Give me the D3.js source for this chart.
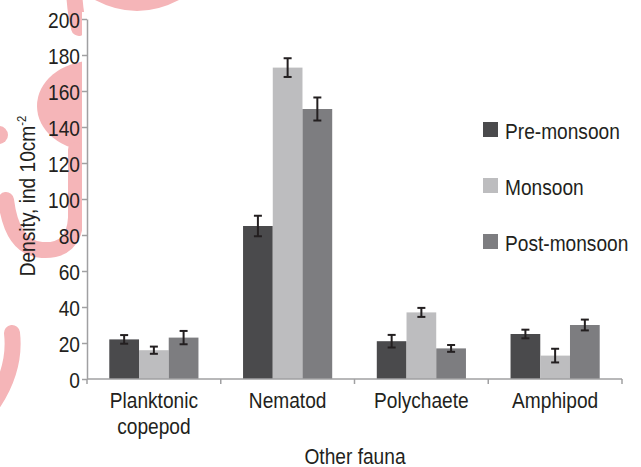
<!DOCTYPE html>
<html>
<head>
<meta charset="utf-8">
<script src="https://cdn.jsdelivr.net/npm/d3@7"></script>
<style>
  html, body { margin: 0; padding: 0; background: #fff; }
  svg { display: block; }
  text { font-family: "Liberation Sans", Arial, sans-serif; fill: #231f20; }
</style>
</head>
<body>
<svg id="chart" width="641" height="467"></svg>
<script>
// ---- data ----
const categories = ["Planktonic copepod", "Nematod", "Polychaete", "Amphipod"];
const categoryLines = [["Planktonic", "copepod"], ["Nematod"], ["Polychaete"], ["Amphipod"]];
const seriesNames = ["Pre-monsoon", "Monsoon", "Post-monsoon"];
const preMonsoon  = [22, 85, 21, 25];
const monsoon     = [16, 173, 37, 13];
const postMonsoon = [23, 150, 17, 30];
const errPre  = [2.4, 5.7, 3.5, 2.4];
const errMon  = [2.0, 5.2, 2.5, 3.8];
const errPost = [3.7, 6.4, 1.9, 3.0];
const yTicks = [0, 20, 40, 60, 80, 100, 120, 140, 160, 180, 200];
const yTitle = "Density, ind 10cm";
const yTitleSup = "-2";
const xTitle = "Other fauna";

const seriesValues = [preMonsoon, monsoon, postMonsoon];
const seriesErrors = [errPre, errMon, errPost];
const colors = ["#4a4a4c", "#bdbdbf", "#7d7d80"];

const svg = d3.select("#chart");
const SX = 0.87; // narrow font emulation
const FS = 22;

function ntext(g, x, y, str, anchor, size) {
  return g.append("text")
    .attr("transform", `translate(${x},${y}) scale(${SX},1)`)
    .attr("text-anchor", anchor || "start")
    .style("font-size", (size || FS) + "px")
    .text(str);
}

// ---- decorative watermark (pink) ----
const wm = svg.append("g").attr("fill", "none").attr("stroke", "#f5b5b8").attr("stroke-linecap", "round");
wm.append("path").attr("d", "M74,-10 Q75,12 79,28").attr("stroke-width", 16);
wm.append("path").attr("d", "M95,0 Q137,22 179,0 Z").attr("fill", "#f5b5b8").attr("stroke", "none");
wm.append("ellipse").attr("cx", 92).attr("cy", 106).attr("rx", 55).attr("ry", 45)
  .attr("fill", "#f5b5b8").attr("stroke", "none");
wm.append("path").attr("d", "M76,150 L76,218 Q74,252 42,250 Q12,248 6,200").attr("stroke-width", 16);
wm.append("path").attr("d", "M12,333 Q16,368 -6,402").attr("stroke-width", 16);
wm.append("circle").attr("cx", -1).attr("cy", 135).attr("r", 9).attr("fill", "#f5b5b8").attr("stroke", "none");
// white plot area covering the watermark
svg.append("rect").attr("x", 82).attr("y", 12).attr("width", 641 - 82).attr("height", 467 - 12).attr("fill", "#fff");

// ---- scales ----
const x0 = d3.scaleBand().domain(categories).range([87, 622]).paddingInner(0).paddingOuter(0);
const x1 = d3.scaleBand().domain(seriesNames).range([0, x0.bandwidth()]).paddingInner(0).paddingOuter(0.75);
const y = d3.scaleLinear().domain([0, 200]).range([379, 19]);

const axisColor = "#a0a0a2";

// ---- bars ----
const groups = svg.append("g").selectAll("g").data(categories).join("g")
  .attr("transform", d => `translate(${x0(d)},0)`);
seriesNames.forEach((s, si) => {
  groups.append("rect")
    .attr("x", x1(s))
    .attr("width", x1.bandwidth())
    .attr("y", (d, i) => y(seriesValues[si][i]))
    .attr("height", (d, i) => y(0) - y(seriesValues[si][i]))
    .attr("fill", colors[si]);
});

// ---- error bars ----
seriesNames.forEach((s, si) => {
  const eb = groups.append("g").attr("stroke", "#231f20").attr("stroke-width", 2);
  const cx = x1(s) + x1.bandwidth() / 2;
  eb.append("line").attr("x1", cx).attr("x2", cx)
    .attr("y1", (d, i) => y(seriesValues[si][i] + seriesErrors[si][i]))
    .attr("y2", (d, i) => y(seriesValues[si][i] - seriesErrors[si][i]));
  eb.append("line").attr("x1", cx - 4).attr("x2", cx + 4)
    .attr("y1", (d, i) => y(seriesValues[si][i] + seriesErrors[si][i]))
    .attr("y2", (d, i) => y(seriesValues[si][i] + seriesErrors[si][i]));
  eb.append("line").attr("x1", cx - 4).attr("x2", cx + 4)
    .attr("y1", (d, i) => y(seriesValues[si][i] - seriesErrors[si][i]))
    .attr("y2", (d, i) => y(seriesValues[si][i] - seriesErrors[si][i]));
});

// ---- y axis ----
const yAxis = svg.append("g").attr("transform", "translate(87,0)")
  .call(d3.axisLeft(y).tickValues(yTicks).tickSize(5).tickSizeOuter(0).tickFormat(d3.format("d")));
yAxis.select(".domain").attr("stroke", axisColor).attr("stroke-width", 1.5);
yAxis.selectAll(".tick line").attr("stroke", axisColor).attr("stroke-width", 1.5);
yAxis.selectAll(".tick text")
  .attr("x", null).attr("dy", null)
  .attr("transform", `translate(-7,8) scale(${SX},1)`)
  .attr("fill", "#231f20")
  .style("font-size", FS + "px")
  .style("font-family", '"Liberation Sans", Arial, sans-serif');

// ---- x axis ----
const xAxisG = svg.append("g");
xAxisG.append("line").attr("x1", 87).attr("x2", 622).attr("y1", y(0)).attr("y2", y(0))
  .attr("stroke", axisColor).attr("stroke-width", 1.5);
const boundaries = categories.map(c => x0(c)).concat([x0(categories[categories.length - 1]) + x0.bandwidth()]);
xAxisG.selectAll("line.tk").data(boundaries).join("line").attr("class", "tk")
  .attr("x1", d => d).attr("x2", d => d).attr("y1", y(0)).attr("y2", y(0) + 5)
  .attr("stroke", axisColor).attr("stroke-width", 1.5);

categories.forEach((c, i) => {
  const cx = x0(c) + x0.bandwidth() / 2;
  categoryLines[i].forEach((ln, li) => {
    ntext(svg, cx, 408 + li * 26, ln, "middle");
  });
});

// ---- titles ----
ntext(svg, 355, 464, xTitle, "middle");
const yt = svg.append("text")
  .attr("transform", `translate(35,196) rotate(-90) scale(${SX},1)`)
  .attr("text-anchor", "middle")
  .style("font-size", FS + "px");
yt.append("tspan").text(yTitle);
yt.append("tspan").attr("dy", -9).style("font-size", "13px").text(yTitleSup);

// ---- legend ----
const legend = svg.append("g");
seriesNames.forEach((s, si) => {
  const ly = 122 + si * 56;
  legend.append("rect").attr("x", 483).attr("y", ly).attr("width", 15).attr("height", 15).attr("fill", colors[si]);
  ntext(legend, 505, ly + 17, s, "start");
});
</script>
</body>
</html>
